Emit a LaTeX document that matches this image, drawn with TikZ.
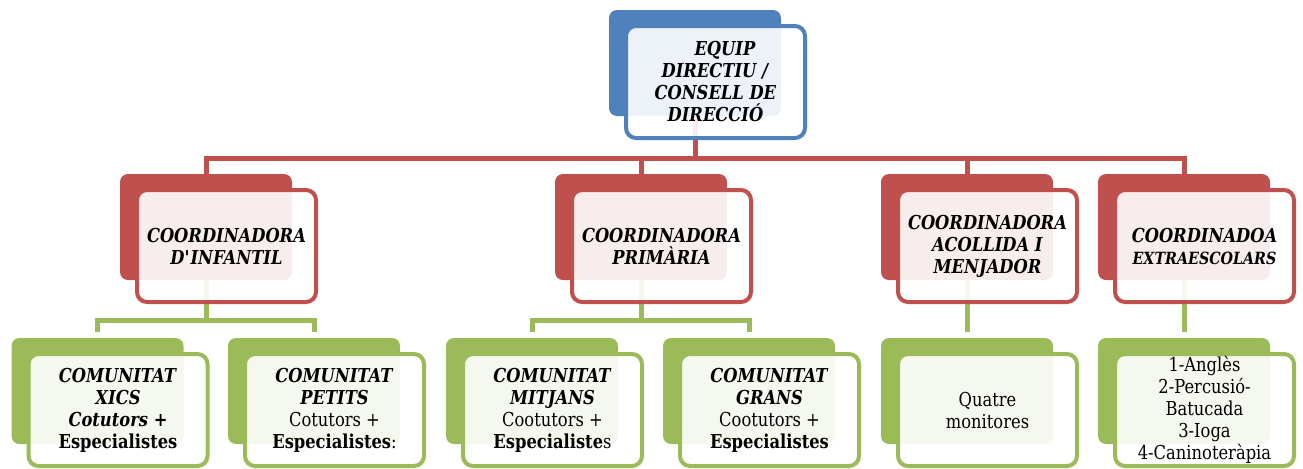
\documentclass[tikz,border=0pt]{standalone}
\usepackage{fontspec}
\setmainfont[FakeStretch=0.85]{DejaVu Serif}

\definecolor{dirblue}{HTML}{4F81BD}
\definecolor{coordred}{HTML}{C0504D}
\definecolor{teamgreen}{HTML}{9BBB59}

\newcommand{\cardhead}[1]{\textbf{\textit{#1}}}

\tikzset{
  cardback/.style={fill=#1, rounded corners=4pt, minimum width=86pt,
    minimum height=53pt, inner sep=0pt},
  cardfront/.style={draw=#1, line width=2pt, fill=white, fill opacity=0.9,
    text opacity=1, rounded corners=5pt, minimum width=89.5pt,
    minimum height=56pt, inner sep=0pt, align=center,
    font=\fontsize{9.6}{11}\selectfont},
  tie/.style={draw=#1, line width=2.5pt},
}

\begin{document}
\begin{tikzpicture}[x=0.5pt, y=-0.5pt]
\useasboundingbox (0,0) rectangle (1303,468);

% coloured back cards
\node[cardback=dirblue] (dir) at (695,63) {};
\node[cardback=coordred] (inf) at (206,227) {};
\node[cardback=coordred] (pri) at (641,227) {};
\node[cardback=coordred] (aco) at (967,227) {};
\node[cardback=coordred] (ext) at (1184,227) {};
\node[cardback=teamgreen] (xics) at (97.5,391) {};
\node[cardback=teamgreen] (pet) at (314,391) {};
\node[cardback=teamgreen] (mit) at (532,391) {};
\node[cardback=teamgreen] (gra) at (749,391) {};
\node[cardback=teamgreen] (mon) at (967,391) {};
\node[cardback=teamgreen] (act) at (1184,391) {};

% connectors
\foreach \c in {inf,pri,aco,ext}
  \draw[tie=coordred] (dir.south) -- ++(0,42) -| (\c.north);
\draw[tie=teamgreen, shorten >=3pt] (inf.south) -- ++(0,40) -| (xics.north);
\draw[tie=teamgreen, shorten >=3pt] (inf.south) -- ++(0,40) -| (pet.north);
\draw[tie=teamgreen, shorten >=3pt] (pri.south) -- ++(0,40) -| (mit.north);
\draw[tie=teamgreen, shorten >=3pt] (pri.south) -- ++(0,40) -| (gra.north);
\draw[tie=teamgreen, shorten >=3pt] (aco.south) -- (mon.north);
\draw[tie=teamgreen, shorten >=3pt] (ext.south) -- (act.north);

% text cards
\node[cardfront=dirblue] (dir-t) at ([shift={(20.5,19)}]dir.center)
  {\hspace*{1em}\cardhead{EQUIP}\\\cardhead{DIRECTIU /}\\\cardhead{CONSELL DE}\\\cardhead{DIRECCIÓ}};
\node[cardfront=coordred] (inf-t) at ([shift={(20.5,19)}]inf.center)
  {\cardhead{COORDINADORA}\\\cardhead{D\textquotesingle INFANTIL}};
\node[cardfront=coordred] (pri-t) at ([shift={(20.5,19)}]pri.center)
  {\cardhead{COORDINADORA}\\\cardhead{PRIMÀRIA}};
\node[cardfront=coordred] (aco-t) at ([shift={(20.5,19)}]aco.center)
  {\cardhead{COORDINADORA}\\\cardhead{ACOLLIDA I}\\\cardhead{MENJADOR}};
\node[cardfront=coordred] (ext-t) at ([shift={(20.5,19)}]ext.center)
  {\cardhead{COORDINADOA}\\\fontsize{8.4}{11}\selectfont\cardhead{EXTRAESCOLARS}};
\node[cardfront=teamgreen] (xics-t) at ([shift={(20.5,19)}]xics.center)
  {\cardhead{COMUNITAT}\\\cardhead{XICS}\\\cardhead{Cotutors +}\\\textbf{Especialistes}};
\node[cardfront=teamgreen] (pet-t) at ([shift={(20.5,19)}]pet.center)
  {\cardhead{COMUNITAT}\\\cardhead{PETITS}\\Cotutors +\\\textbf{Especialistes}:};
\node[cardfront=teamgreen] (mit-t) at ([shift={(20.5,19)}]mit.center)
  {\cardhead{COMUNITAT}\\\cardhead{MITJANS}\\Cootutors +\\\textbf{Especialiste}s};
\node[cardfront=teamgreen] (gra-t) at ([shift={(20.5,19)}]gra.center)
  {\cardhead{COMUNITAT}\\\cardhead{GRANS}\\Cootutors +\\\textbf{Especialistes}};
\node[cardfront=teamgreen] (mon-t) at ([shift={(20.5,19)}]mon.center)
  {Quatre\\monitores};
\node[cardfront=teamgreen] (act-t) at ([shift={(20.5,19)}]act.center)
  {1-Anglès\\2-Percusió-\\Batucada\\3-Ioga\\4-Caninoteràpia};
\end{tikzpicture}
\end{document}
